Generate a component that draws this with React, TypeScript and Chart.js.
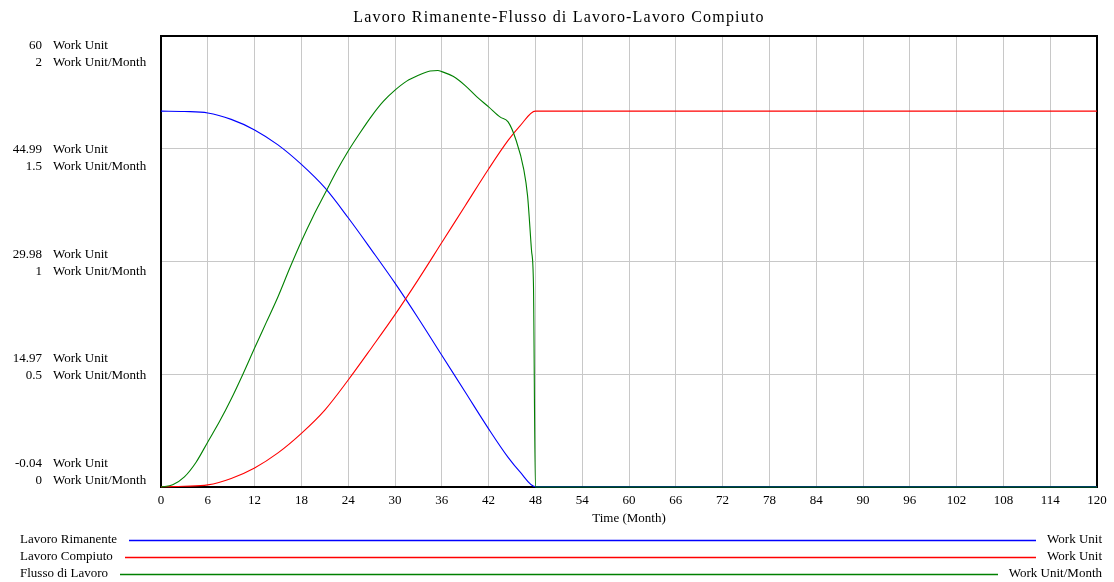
import React, { useEffect, useRef } from "react";
import { Chart, registerables } from "chart.js";

Chart.register(...registerables);

const TITLE = "Lavoro Rimanente-Flusso di Lavoro-Lavoro Compiuto";
const X_TITLE = "Time (Month)";
const X_TICKS = [0, 6, 12, 18, 24, 30, 36, 42, 48, 54, 60, 66, 72, 78, 84, 90, 96, 102, 108, 114, 120];
const LEFT_TICKS = ["60", "44.99", "29.98", "14.97", "-0.04"];
const RIGHT_TICKS = ["2", "1.5", "1", "0.5", "0"];
const LEFT_UNIT = "Work Unit";
const RIGHT_UNIT = "Work Unit/Month";
const SERIES_NAMES = ["Lavoro Rimanente", "Lavoro Compiuto", "Flusso di Lavoro"];
const SERIES_UNITS = ["Work Unit", "Work Unit", "Work Unit/Month"];
const SERIES_COLORS = ["#0000ff", "#ff0000", "#008000"];

const TIME_WORK = [0, 3, 6, 9, 12, 15, 18, 21, 24, 27, 30, 33, 36, 39, 42, 44.5, 46, 48, 120];
const REMAINING = [50, 49.95, 49.76, 48.9, 47.5, 45.5, 42.9, 39.8, 35.8, 31.5, 27.1, 22.4, 17.5, 12.6, 7.7, 3.9, 2.0, 0, 0];
const COMPLETED = [0, 0.05, 0.24, 1.1, 2.5, 4.5, 7.1, 10.2, 14.2, 18.5, 22.9, 27.6, 32.5, 37.4, 42.3, 46.1, 48.0, 50, 50];

const TIME_FLOW = [0, 1.5, 3, 4.5, 6, 7.5, 9, 10.5, 12, 13.5, 15, 16.5, 18, 19.5, 21, 22.5, 24, 25.5, 27, 28.5, 30, 31.5, 33, 34.5, 35.5, 36, 37.5, 39, 40.5, 42, 43.5, 44.5, 45.5, 46.5, 47, 47.5, 47.75, 48, 120];
const FLOW = [0, 0.01, 0.045, 0.11, 0.2, 0.29, 0.39, 0.5, 0.616, 0.73, 0.844, 0.97, 1.09, 1.2, 1.3, 1.4, 1.49, 1.57, 1.645, 1.71, 1.76, 1.8, 1.826, 1.845, 1.847, 1.842, 1.82, 1.78, 1.73, 1.686, 1.64, 1.619, 1.54, 1.41, 1.29, 1.05, 0.9, 0, 0];

const FONT = "Liberation Serif, Times New Roman, serif";

const overlay = {
  id: "vensimOverlay",
  beforeDatasetsDraw(chart: any) {
    const { ctx, chartArea: a } = chart;
    ctx.save();
    ctx.strokeStyle = "#000";
    ctx.lineWidth = 2;
    ctx.strokeRect(a.left, a.top, a.right - a.left, a.bottom - a.top);
    ctx.restore();
  },
  afterDraw(chart: any) {
    const { ctx, chartArea: a, width } = chart;
    const xs = chart.scales.x;
    ctx.save();
    ctx.fillStyle = "#000";
    // title
    ctx.font = `16px ${FONT}`;
    ctx.textAlign = "center";
    ctx.textBaseline = "middle";
    try { (ctx as any).letterSpacing = "1.2px"; } catch (e) {}
    ctx.fillText(TITLE, width / 2 + 2, a.top - 18);
    try { (ctx as any).letterSpacing = "0px"; } catch (e) {}
    // y labels
    ctx.font = `13px ${FONT}`;
    const step = (a.bottom - a.top - 33) / (LEFT_TICKS.length - 1);
    LEFT_TICKS.forEach((t, i) => {
      const y = a.top + 9.5 + i * step;
      ctx.textAlign = "right";
      ctx.fillText(t, a.left - 119, y);
      ctx.fillText(RIGHT_TICKS[i], a.left - 119, y + 17);
      ctx.textAlign = "left";
      ctx.fillText(LEFT_UNIT, a.left - 108, y);
      ctx.fillText(RIGHT_UNIT, a.left - 108, y + 17);
    });
    // x labels
    ctx.textAlign = "center";
    X_TICKS.forEach((t) => {
      ctx.fillText(String(t), xs.getPixelForValue(t), a.bottom + 14);
    });
    ctx.fillText(X_TITLE, (a.left + a.right) / 2, a.bottom + 32);
    // legend
    SERIES_NAMES.forEach((name, i) => {
      const y = a.bottom + 52.5 + i * 17;
      ctx.textAlign = "left";
      ctx.fillText(name, 20, y);
      const w = ctx.measureText(name).width;
      ctx.textAlign = "right";
      ctx.fillText(SERIES_UNITS[i], width - 12, y);
      const uw = ctx.measureText(SERIES_UNITS[i]).width;
      ctx.strokeStyle = SERIES_COLORS[i];
      ctx.lineWidth = 1.3;
      ctx.beginPath();
      ctx.moveTo(Math.round(20 + w + 12), Math.round(y) + 0.5);
      ctx.lineTo(Math.round(width - 12 - uw - 11), Math.round(y) + 0.5);
      ctx.stroke();
    });
    ctx.restore();
  },
};

export default function App() {
  const ref = useRef<HTMLCanvasElement>(null);
  useEffect(() => {
    if (!ref.current) return;
    const chart = new Chart(ref.current, {
      type: "line",
      data: {
        datasets: [
          {
            label: SERIES_NAMES[2],
            data: TIME_FLOW.map((t, i) => ({ x: t, y: FLOW[i] })),
            borderColor: SERIES_COLORS[2],
            yAxisID: "y2",
          },
          {
            label: SERIES_NAMES[1],
            data: TIME_WORK.map((t, i) => ({ x: t, y: COMPLETED[i] })),
            borderColor: SERIES_COLORS[1],
            yAxisID: "y",
          },
          {
            label: SERIES_NAMES[0],
            data: TIME_WORK.map((t, i) => ({ x: t, y: REMAINING[i] })),
            borderColor: SERIES_COLORS[0],
            yAxisID: "y",
          },
        ].map((d) => ({
          ...d,
          borderWidth: 1.1,
          pointRadius: 0,
          fill: false,
          cubicInterpolationMode: "monotone" as const,
          clip: 4,
        })),
      },
      options: {
        responsive: false,
        animation: false,
        layout: { padding: { left: 161, top: 36, right: 17, bottom: 95 } },
        plugins: { legend: { display: false }, title: { display: false }, tooltip: { enabled: false } },
        scales: {
          x: {
            type: "linear",
            min: 0,
            max: 120,
            ticks: { display: false, stepSize: 6, autoSkip: false },
            grid: { color: "#c8c8c8", lineWidth: 1, drawTicks: false, tickLength: 0 },
            border: { display: false },
          },
          y: {
            type: "linear",
            position: "left",
            min: -0.04,
            max: 60,
            ticks: { display: false, stepSize: 15.01 },
            grid: { color: "#c8c8c8", lineWidth: 1, drawTicks: false, tickLength: 0 },
            border: { display: false },
          },
          y2: {
            type: "linear",
            position: "right",
            display: false,
            min: 0,
            max: 2,
          },
        },
      },
      plugins: [overlay],
    });
    return () => chart.destroy();
  }, []);
  return (
    <div style={{ position: "fixed", left: 0, top: 0, width: 1114, height: 582, background: "#fff" }}>
      <canvas ref={ref} width={1114} height={582} />
    </div>
  );
}
